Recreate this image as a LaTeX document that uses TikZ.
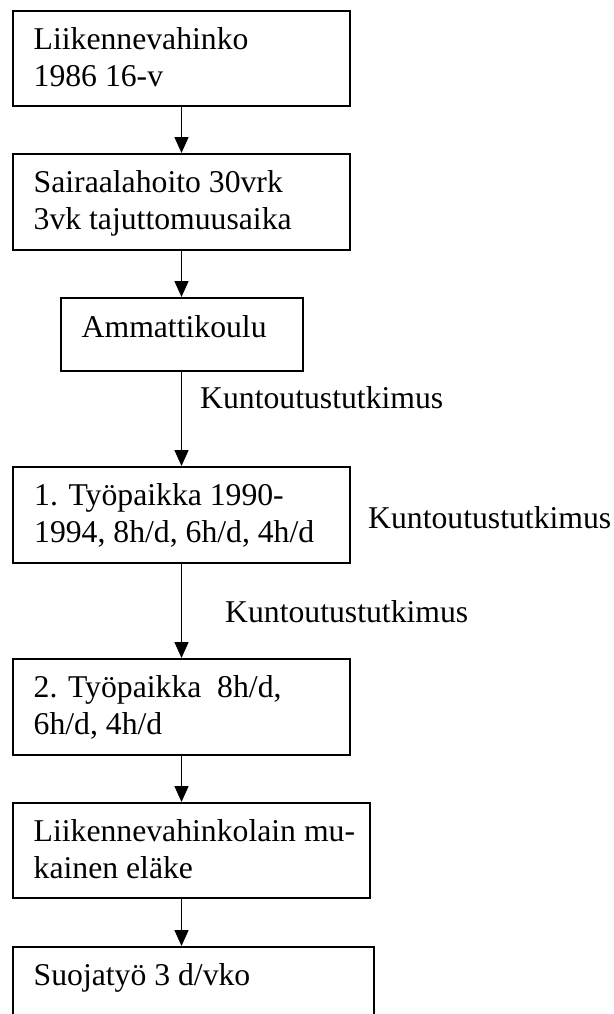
\documentclass[tikz,border=0pt]{standalone}
\usepackage{fontspec}
\setmainfont{Liberation Serif}
\usetikzlibrary{arrows.meta}
\tikzset{
  stepbox/.style={draw=black, line width=2bp, rectangle, inner sep=0pt, anchor=north west},
  boxtext/.style={anchor=base west, inner sep=0pt, font=\fontsize{31.7bp}{36.6bp}\selectfont},
  flow/.style={draw=black, line width=1.6bp, -{Triangle[width=14bp,length=16bp]}},
}
% left-aligned block of lines whose baseline is the first line
\newcommand{\boxlines}[1]{\begin{tabular}[t]{@{}l@{}}#1\end{tabular}}
\begin{document}
\begin{tikzpicture}[x=1bp,y=-1bp]
\useasboundingbox (0,0) rectangle (614,1014);
\clip (0,0) rectangle (614,1014);

% boxes
\node[stepbox, minimum width=337bp, minimum height=95bp] (b1) at (12,10) {};
\node[stepbox, minimum width=337bp, minimum height=96bp] (b2) at (12,153) {};
\node[stepbox, minimum width=242bp, minimum height=73bp] (b3) at (60,297) {};
\node[stepbox, minimum width=337bp, minimum height=96bp] (b4) at (12,466) {};
\node[stepbox, minimum width=337bp, minimum height=96bp] (b5) at (12,658) {};
\node[stepbox, minimum width=357bp, minimum height=95bp] (b6) at (12,802) {};
\node[stepbox, minimum width=361bp, minimum height=96bp] (b7) at (12,946) {};

% box texts
\node[boxtext] (t1) at (33.5,49.5) {\boxlines{Liikennevahinko\\1986 16-v}};
\node[boxtext] (t2) at (33.5,192.5) {\boxlines{Sairaalahoito 30vrk\\3vk tajuttomuusaika}};
\node[boxtext] (t3) at (81.5,337) {Ammattikoulu};
\node[boxtext] (t4) at (34,505.5) {\boxlines{1. Työpaikka 1990-\\1994, 8h/d, 6h/d, 4h/d}};
\node[boxtext] (t5) at (33.5,697.5) {\boxlines{2. Työpaikka\ \ 8h/d,\\6h/d, 4h/d}};
\node[boxtext] (t6) at (33.5,841.5) {\boxlines{Liikennevahinkolain mu-\\kainen eläke}};
\node[boxtext] (t7) at (33.5,985) {Suojatyö 3 d/vko};

% side labels
\node[boxtext] (k1) at (200,408) {Kuntoutustutkimus};
\node[boxtext] (k2) at (368,528) {Kuntoutustutkimus};
\node[boxtext] (k3) at (225,622) {Kuntoutustutkimus};

% connectors
\draw[flow] (b1.south) -- (b1.south |- b2.north);
\draw[flow] (b2.south) -- (b2.south |- b3.north);
\draw[flow] (b2.south |- b3.south) -- (b2.south |- b4.north);
\draw[flow] (b4.south) -- (b4.south |- b5.north);
\draw[flow] (b5.south) -- (b5.south |- b6.north);
\draw[flow] (b5.south |- b6.south) -- (b5.south |- b7.north);
\end{tikzpicture}
\end{document}
